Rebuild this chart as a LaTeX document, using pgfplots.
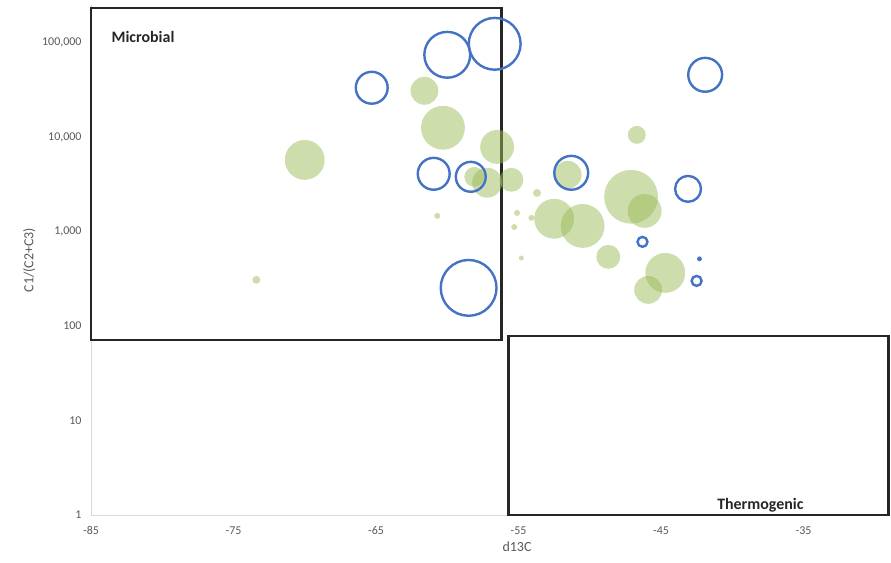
\documentclass[border=0pt]{standalone}
\usepackage{pgfplots}
\pgfplotsset{compat=1.18}
\usepackage{fontspec}
\setmainfont{Carlito}
\definecolor{bubgreen}{RGB}{155,187,89}
\definecolor{bubblue}{RGB}{68,114,196}
\definecolor{txtgray}{RGB}{89,89,89}
\begin{document}
\begin{tikzpicture}
\begin{axis}[
  name=main,
  scale only axis, width=798bp, height=510bp,
  xmin=-85, xmax=-29, ymin=1, ymax=251189,
  ymode=log,
  clip=false,
  axis x line*=bottom, axis y line*=left,
  axis line style={draw=black!15, line width=0.8bp, -},
  xtick={-85,-75,-65,-55,-45,-35},
  ytick={1,10,100,1000,10000,100000},
  yticklabels={1,10,100,{1,000},{10,000},{100,000}},
  major tick length=0pt, minor tick length=0pt,
  /pgf/number format/assume math mode=true,
  ticklabel style={font=\fontsize{12}{14}\selectfont, text=txtgray},
  xticklabel style={yshift=-8bp},
  yticklabel style={xshift=-6bp},
  xlabel={d13C}, ylabel={C1/(C2+C3)},
  xlabel style={xshift=27bp},
  label style={font=\fontsize{14}{16}\selectfont, text=txtgray},
]
% green bubbles (filled)
\addplot[scatter, only marks, mark=*, point meta=\thisrow{r},
  mark options={draw opacity=0, fill=bubgreen, fill opacity=0.5},
  visualization depends on={\thisrow{r}\as\rad},
  scatter/use mapped color={draw opacity=0, draw=bubgreen, fill=bubgreen, fill opacity=0.5},
  scatter/@pre marker code/.append style={/tikz/mark size=\rad}]
  table[x=x,y=y]{
x y r
-70.0 5750 20
-61.6 31000 14
-60.3 12600 22
-56.5 7900 17
-57.2 3300 15
-58.1 3800 10
-55.5 3540 12
-51.55 4000 14
-46.7 10600 9
-47.1 2340 27
-46.15 1660 17
-52.5 1370 20
-50.5 1150 22
-48.7 541 12
-44.7 366 20
-45.9 242 14
-73.4 309 4
-60.7 1470 3
-53.7 2570 4
-55.1 1580 3
-54.1 1400 3
-55.3 1120 3
-54.8 526 2.5
};
% blue bubbles (outline)
\addplot[scatter, only marks, mark=o, point meta=\thisrow{r},
  visualization depends on={\thisrow{r}\as\rad},
  scatter/use mapped color={draw=bubblue, line width=2.4bp, fill=none},
  scatter/@pre marker code/.append style={/tikz/mark size=\rad}]
  table[x=x,y=y]{
x y r
-56.67 97500 26
-60.0 74600 23
-65.3 33400 16
-41.9 45800 17
-60.95 4100 16
-58.35 3810 15
-51.3 4200 17
-43.1 2840 13
-58.5 254 28
-46.3 780 5
-42.5 301 5
};
% smallest blue bubble (drawn as a dot)
\addplot[only marks, mark=*, mark size=2.2, color=bubblue, mark options={draw=bubblue, fill=bubblue}]
  coordinates {(-42.3,515)};
\draw[line width=2.8bp, black!85] (axis cs:-85,234000) rectangle (axis cs:-56.2,71.4);
\draw[line width=2.8bp, black!85] (axis cs:-55.7,78.7) rectangle (axis cs:-29.04,1);
\node[anchor=base west, font=\bfseries\fontsize{16}{18}\selectfont, text=black!85] at (axis cs:-83.8,100000) {Microbial};
\node[anchor=base west, font=\bfseries\fontsize{16}{18}\selectfont, text=black!85] at (axis cs:-41.3,1.15) {Thermogenic};
\end{axis}
\pgfresetboundingbox
\path ([shift={(-91bp,-48bp)}]main.south west) rectangle ([shift={(2bp,5bp)}]main.north east);
\end{tikzpicture}
\end{document}
